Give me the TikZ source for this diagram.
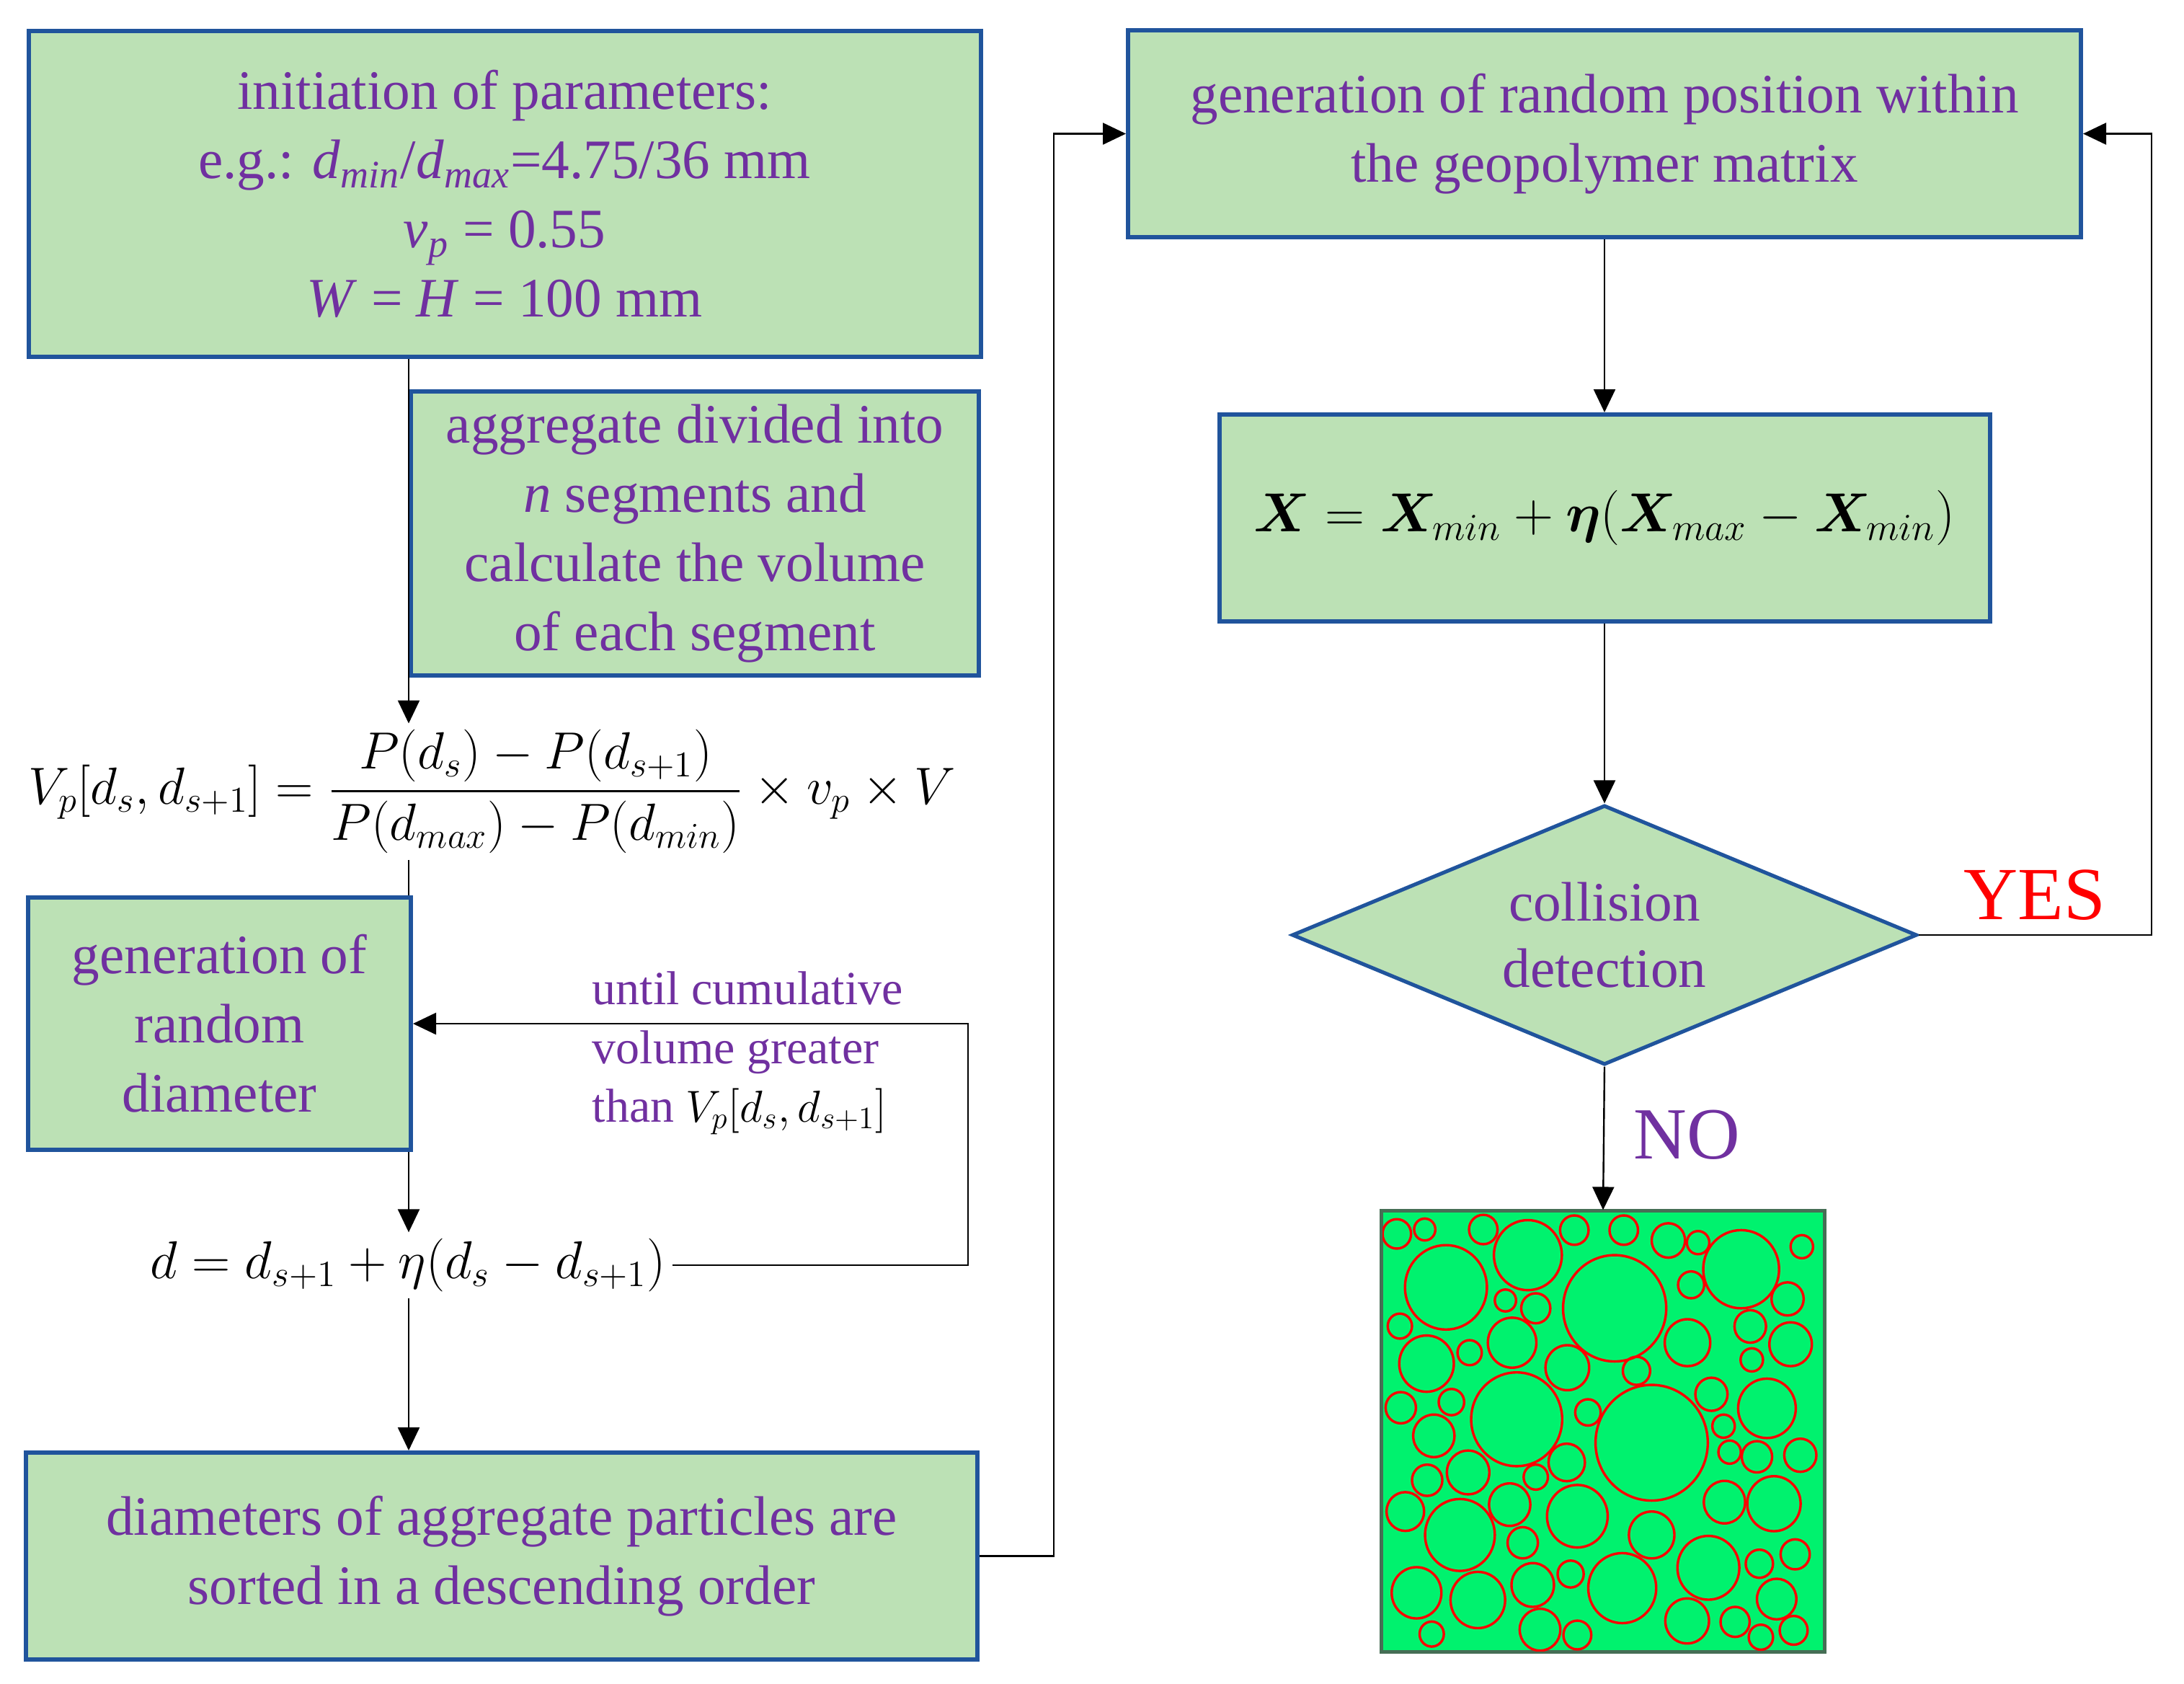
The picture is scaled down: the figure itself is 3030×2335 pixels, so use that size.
\documentclass[tikz,border=0pt]{standalone}
\usepackage{amsmath,bm,graphicx}
\usepackage{fontspec}
\setmainfont{Liberation Serif}
\usetikzlibrary{arrows.meta,shapes.geometric}
\definecolor{boxfill}{RGB}{188,225,181}
\definecolor{boxline}{RGB}{32,84,156}
\definecolor{purp}{RGB}{112,48,160}
\definecolor{matfill}{RGB}{0,242,110}
\definecolor{matline}{RGB}{70,110,85}
\tikzset{
  box/.style={draw=boxline, line width=1.5pt, fill=boxfill, text=purp, align=center,
    inner sep=0pt, font=\fontsize{19.3}{24}\selectfont},
  dia/.style={diamond, draw=boxline, line width=1.3pt, fill=boxfill, text=purp, align=center,
    inner sep=0pt, shape aspect=2.4, font=\fontsize{19.3}{23}\selectfont},
  arr/.style={-{Triangle[length=8pt,width=7.5pt]}, line width=0.6pt},
  conn/.style={line width=0.6pt},
  eq/.style={inner sep=2pt, font=\fontsize{20.74}{24}\selectfont},
}
\newcommand{\isub}[1]{\textsubscript{\itshape #1}}
\begin{document}
\begin{tikzpicture}[x=0.25pt,y=-0.25pt]
\useasboundingbox (0,0) rectangle (3030,2335);

% left column
\node[box, minimum width=330.25pt, minimum height=113pt] (b1) at (700,269)
  {initiation of parameters:\\
   e.g.: \textit{d}\isub{min}/\textit{d}\isub{max}=4.75/36 mm\\
   \textit{v}\isub{p} = 0.55\\
   \textit{W} = \textit{H} = 100 mm};
\node[box, minimum width=197pt, minimum height=98.5pt] (b2) at (964,740)
  {aggregate divided into\\ \textit{n} segments and\\ calculate the volume\\ of each segment};
\node[eq] (vp) at (683,1098)
  {\scalebox{0.875}{$V_p[d_s,d_{s+1}]=\dfrac{P(d_s)-P(d_{s+1})}{P(d_{max})-P(d_{min})}\times v_p\times V$}};
\node[box, minimum width=132.75pt, minimum height=87.5pt] (b3) at (304.5,1420)
  {generation of\\ random\\ diameter};
\node[eq] (df) at (566,1755) {\scalebox{0.89}{$d=d_{s+1}+\eta(d_s-d_{s+1})$}};
\node[text=purp, align=left, anchor=west, inner sep=0pt, font=\fontsize{16.5}{20.3}\selectfont] (lbl) at (821,1461)
  {until cumulative\\volume greater\\than {\color{black}\scalebox{0.9}{$V_p[d_s,d_{s+1}]$}}};
\node[box, minimum width=330pt, minimum height=71.75pt] (b4) at (696,2158.5)
  {diameters of aggregate particles are\\ sorted in a descending order};

% right column
\node[box, minimum width=330.5pt, minimum height=71.75pt] (b5) at (2226,185.5)
  {generation of random position within\\ the geopolymer matrix};
\node[box, text=black, minimum width=267.25pt, minimum height=71.75pt] (b6) at (2226,718.5)
  {\scalebox{0.92}{$\bm{X}=\bm{X}_{min}+\bm{\eta}(\bm{X}_{max}-\bm{X}_{min})$}};
\node[dia, minimum width=216.75pt, minimum height=90pt] (dec) at (2226,1297)
  {collision\\detection};
\node[draw=matline, fill=matfill, line width=0.8pt, minimum width=153.25pt, minimum height=152.75pt, inner sep=0pt] (mat) at (2224,1985.5) {};

\begin{scope}
  \clip (mat.south west) rectangle (mat.north east);
  \begin{scope}[shift={(1900,1650)}, xscale=0.4209, yscale=0.4337]
    \foreach \cx/\cy/\r in {
      90/142/47, 182/128/35, 375/128/47, 522/210/112, 675/130/47, 838/130/47,
      985/163/55, 1083/170/37, 1225/255/125, 1425/183/37, 252/313/135, 448/355/35,
      548/380/48, 808/380/170, 1060/305/43, 1378/350/53, 100/437/40, 188/557/90,
      330/522/40, 470/490/80, 652/570/72, 880/580/45, 1048/490/75, 1255/438/52,
      1388/495/70, 1260/545/37, 103/698/50, 270/680/42, 485/735/150, 720/713/42,
      930/810/185, 1127/655/53, 1310/700/95, 1167/757/37, 212/788/68, 190/930/50,
      325/905/70, 548/920/40, 650/873/60, 1187/840/37, 1277/855/50, 1420/850/53,
      118/1030/62, 298/1105/115, 462/1008/68, 685/1045/100, 505/1130/50, 930/1105/75,
      1170/1000/68, 1333/1005/88, 1117/1210/102, 1285/1197/45, 1403/1167/48,
      155/1290/82, 357/1313/90, 538/1265/70, 663/1230/43, 833/1275/112, 1047/1380/72,
      1205/1383/48, 1342/1310/65, 205/1422/40, 562/1408/67, 685/1425/46, 1290/1432/40,
      1398/1410/46}
      \draw[red, line width=0.85pt] (\cx,\cy) circle (\r);
  \end{scope}
\end{scope}
\draw[matline, line width=0.8pt] (mat.south west) rectangle (mat.north east);

\node[text=red, font=\fontsize{26}{26}\selectfont, inner sep=0pt] (yes) at (2823,1242) {YES};
\node[text=purp, font=\fontsize{25.5}{26}\selectfont, inner sep=0pt] (no) at (2340,1574) {NO};

\coordinate (c1) at (1343,1422);
\coordinate (c2) at (1462,0);
\coordinate (c3) at (2985,0);

% connectors
\draw[arr] (b1.south -| b2.west) -- (b2.west |- vp.north);
\draw[conn] (b2.west |- vp.south) -- (b2.west |- b3.north);
\draw[arr] (b2.west |- b3.south) -- (b2.west |- df.north);
\draw[arr] (b2.west |- df.south) -- (b4.north -| b2.west);
\draw[arr] (df.east) -- (df.east -| c1) |- (b3.east);
\draw[arr] (b4.east) -- (b4.east -| c2) |- (b5.west);
\draw[arr] (b5.south) -- (b6.north);
\draw[arr] (b6.south) -- (dec.north);
\draw[arr] (dec.south) -- (mat.north);
\draw[arr] (dec.east) -- (dec.east -| c3) |- (b5.east);
\end{tikzpicture}
\end{document}
